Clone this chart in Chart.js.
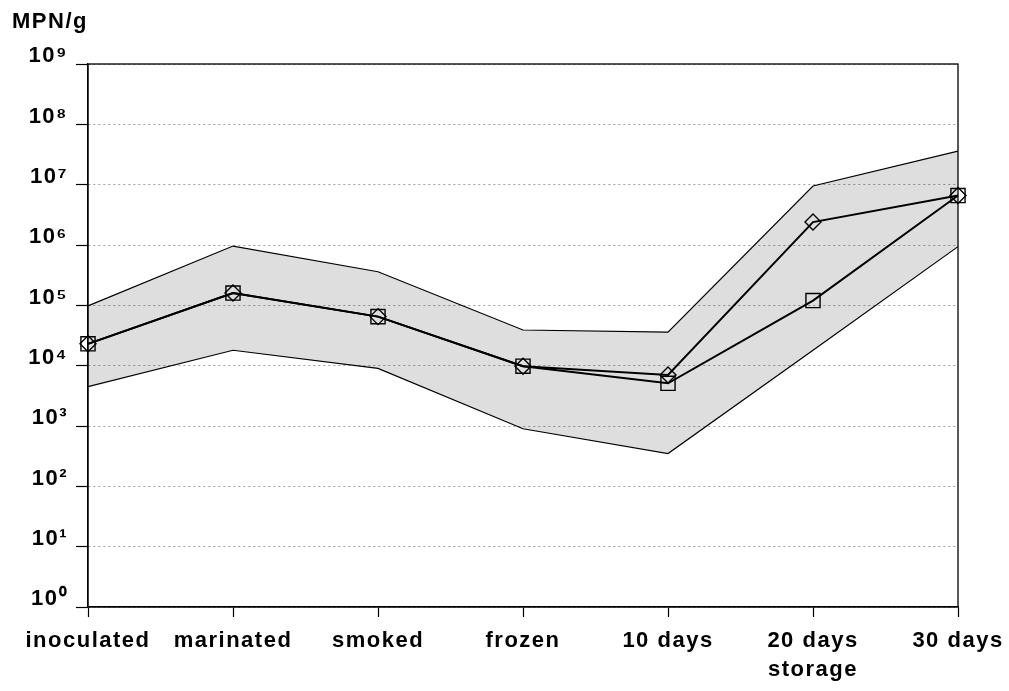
<!DOCTYPE html>
<html>
<head>
<meta charset="utf-8">
<script src="https://cdn.jsdelivr.net/npm/chart.js@4"></script>
<style>
  body { margin: 0; background: #fff; }
  #wrap { width: 1009px; height: 691px; }
</style>
</head>
<body>
<div id="wrap"><canvas id="chart"></canvas></div>
<script>
// stages of processing / storage
const categories = ['inoculated', 'marinated', 'smoked', 'frozen', '10 days', '20 days', '30 days'];
const xLabels = ['inoculated', 'marinated', 'smoked', 'frozen', '10 days', ['20 days', 'storage'], '30 days'];

// MPN/g
const upperBand = [9.8e4, 9.6e5, 3.6e5, 3.9e4, 3.6e4, 9.5e6, 3.6e7];
const lowerBand = [4.5e3, 1.8e4, 9.0e3, 9.0e2, 3.5e2, 1.8e4, 9.4e5];
const diamondSeries = [2.3e4, 1.6e5, 6.5e4, 9.8e3, 7.0e3, 2.4e6, 6.6e6];
const squareSeries = [2.3e4, 1.6e5, 6.5e4, 9.8e3, 5.1e3, 1.2e5, 6.6e6];

// y tick labels 10^0 .. 10^9
const decades = [1, 10, 100, 1e3, 1e4, 1e5, 1e6, 1e7, 1e8, 1e9];
const decadeLabels = ['10⁰', '10¹', '10²', '10³', '10⁴', '10⁵', '10⁶', '10⁷', '10⁸', '10⁹'];

const FONT = "'Liberation Sans', Arial, sans-serif";

// a bit of letter spacing like the old plot
const spacingPlugin = {
    id: 'spacing',
    beforeLayout(chart) { chart.ctx.letterSpacing = '1.5px'; },
    beforeDraw(chart) { chart.ctx.letterSpacing = '1.5px'; }
};

// black frame round the plot area
const framePlugin = {
    id: 'frame',
    afterDraw(chart) {
        const a = chart.chartArea;
        const ctx = chart.ctx;
        ctx.save();
        ctx.strokeStyle = '#000';
        ctx.lineWidth = 1.3;
        ctx.strokeRect(a.left, a.top, a.right - a.left, a.bottom - a.top);
        ctx.restore();
    }
};

const ctx = document.getElementById('chart').getContext('2d');
window.myChart = new Chart(ctx, {
    type: 'line',
    data: {
        labels: categories,
        datasets: [
            {
                label: 'upper',
                data: upperBand,
                borderColor: '#000',
                borderWidth: 1.2,
                pointRadius: 0,
                fill: '+1',
                backgroundColor: 'rgba(0,0,0,0.13)'
            },
            {
                label: 'lower',
                data: lowerBand,
                borderColor: '#000',
                borderWidth: 1.2,
                pointRadius: 0,
                fill: false
            },
            {
                label: 'diamond',
                data: diamondSeries,
                borderColor: '#000',
                borderWidth: 2,
                pointStyle: 'rectRot',
                pointRadius: 8,
                pointBorderWidth: 1.4,
                pointBackgroundColor: 'transparent',
                fill: false
            },
            {
                label: 'square',
                data: squareSeries,
                borderColor: '#000',
                borderWidth: 2,
                pointStyle: 'rect',
                pointRadius: 10,
                pointBorderWidth: 1.4,
                pointBackgroundColor: 'transparent',
                fill: false
            }
        ]
    },
    options: {
        responsive: true,
        maintainAspectRatio: false,
        animation: false,
        clip: false,
        layout: { padding: { left: 12, right: 51, top: 0, bottom: 0 } },
        plugins: {
            legend: { display: false },
            tooltip: { enabled: false },
            title: {
                display: true,
                text: 'MPN/g',
                align: 'start',
                color: '#000',
                font: { family: FONT, size: 22, weight: 'bold', lineHeight: 1.2 },
                padding: { top: 9, bottom: 28.6 }
            }
        },
        elements: { line: { tension: 0 } },
        scales: {
            x: {
                grid: {
                    drawOnChartArea: false,
                    drawTicks: true,
                    tickLength: 10,
                    tickColor: '#000',
                    tickWidth: 1.2
                },
                border: { color: '#000', width: 1.3 },
                ticks: {
                    color: '#000',
                    padding: 10,
                    maxRotation: 0,
                    autoSkip: false,
                    font: { family: FONT, size: 22, weight: 'bold', lineHeight: 1.3 },
                    callback: (v, i) => xLabels[i]
                },
                afterFit(scale) {
                    scale.height = 84;
                    scale.paddingRight = 40;
                }
            },
            y: {
                type: 'logarithmic',
                min: 1,
                max: 1e9,
                afterBuildTicks(scale) {
                    scale.ticks = decades.map(v => ({ value: v }));
                },
                grid: {
                    color: '#a0a0a0',
                    lineWidth: 1,
                    tickColor: '#000',
                    tickLength: 12,
                    tickWidth: 1.2,
                    tickBorderDash: []
                },
                border: { color: '#000', width: 1.3, dash: [2, 3] },
                ticks: {
                    color: '#000',
                    padding: 8,
                    font: { family: FONT, size: 22, weight: 'bold', lineHeight: 0.7 },
                    callback: (v) => {
                        const i = decades.indexOf(v);
                        return i < 0 ? '' : [decadeLabels[i], ''];
                    }
                },
                afterFit(scale) { scale.width = 76; }
            }
        }
    },
    plugins: [spacingPlugin, framePlugin]
});
</script>
</body>
</html>
